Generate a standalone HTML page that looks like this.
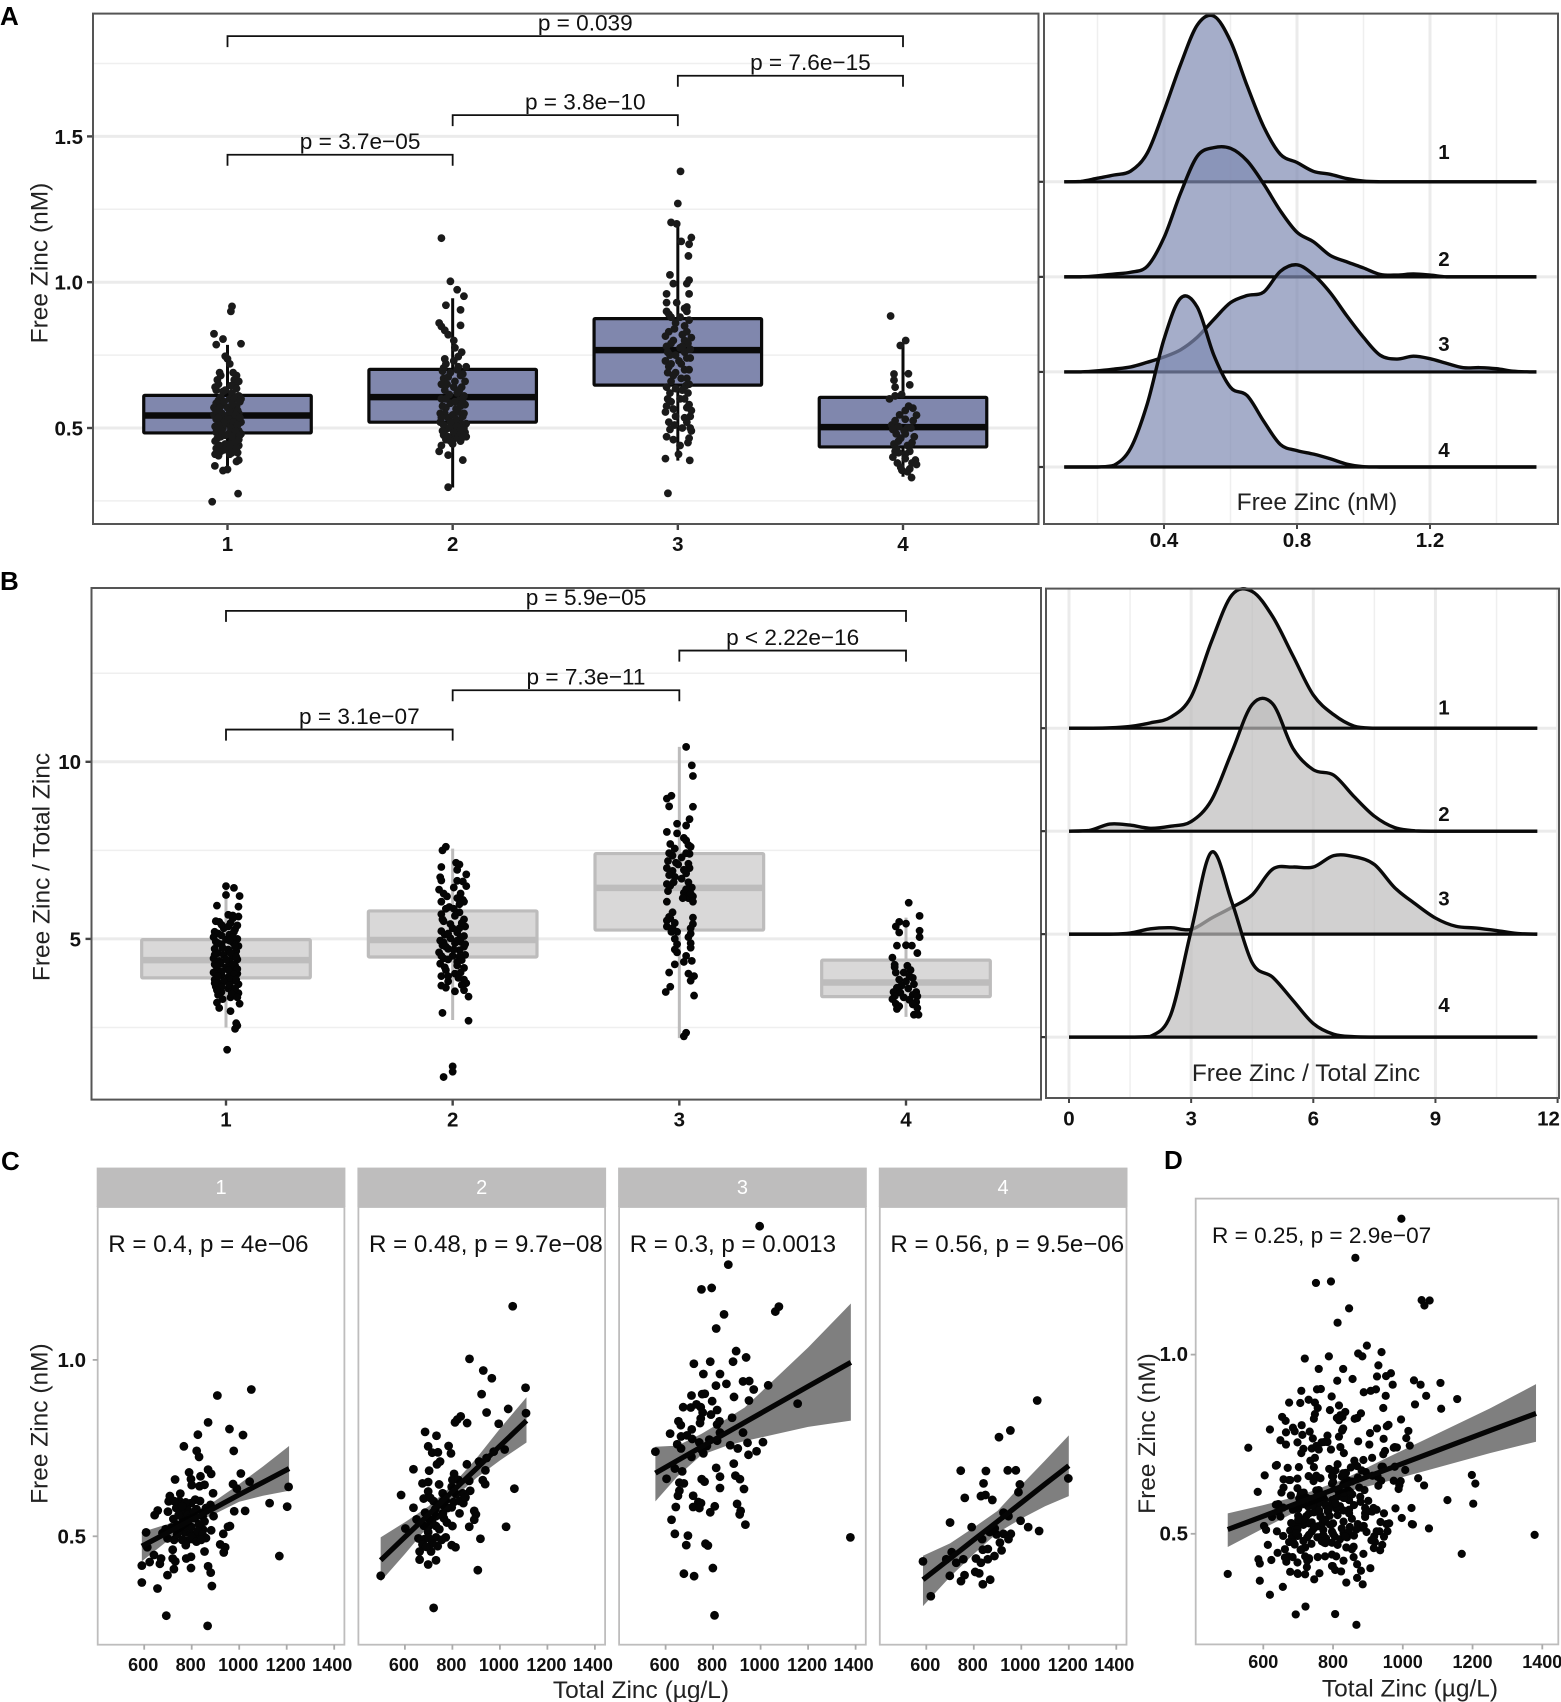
<!DOCTYPE html>
<html lang="en">
<head>
<meta charset="utf-8">
<title>Free zinc distribution and correlation figure</title>
<style>
html,body{margin:0;padding:0;background:#fff}
svg{display:block}
text{font-family:"Liberation Sans",Arial,sans-serif}
.title{font-size:24.5px;fill:#222}
.letter{font-size:26px;font-weight:bold;fill:#000}
.r{font-size:24.1px;fill:#111}
.r2{font-size:22.6px;fill:#111}
.strip{font-size:20px;fill:#fff;text-anchor:middle}
.mid{text-anchor:middle}
</style>
</head>
<body>
<svg id="figure" xmlns="http://www.w3.org/2000/svg" width="1561" height="1702" viewBox="0 0 1561 1702">
<rect width="1561" height="1702" fill="#fff"/>
<g id="panelA"></g>
<g id="ridgeA"></g>
<g id="panelB"></g>
<g id="ridgeB"></g>
<g id="panelC"></g>
<g id="panelD"></g>

<text class="letter" x="0" y="25">A</text>
<text class="letter" x="0" y="590">B</text>
<text class="letter" x="1" y="1170">C</text>
<text class="letter" x="1164" y="1169">D</text>

<text class="title mid" transform="translate(47.7,263) rotate(-90)">Free Zinc (nM)</text>
<text class="title mid" transform="translate(49.7,867) rotate(-90)">Free Zinc / Total Zinc</text>
<text class="title mid" x="1317" y="510">Free Zinc (nM)</text>
<text class="title mid" x="1306" y="1081">Free Zinc / Total Zinc</text>
<text class="title mid" transform="translate(47.5,1423.6) rotate(-90)">Free Zinc (nM)</text>
<text class="title mid" x="641" y="1698">Total Zinc (µg/L)</text>
<text class="title mid" transform="translate(1155,1433.5) rotate(-90)">Free Zinc (nM)</text>
<text class="title mid" x="1410" y="1696.5">Total Zinc (µg/L)</text>
</svg>

<script>
/* ---------- Panel A / B box statistics: [lowerWhisker, q1, median, q3, upperWhisker] ---------- */
const categories = [1, 2, 3, 4];
const boxStatsA = [[0.345,0.483,0.543,0.612,0.785],[0.296,0.52,0.606,0.701,0.945],[0.388,0.647,0.767,0.875,1.2],[0.333,0.435,0.503,0.605,0.79]];
const boxStatsB = [[2.5,3.9,4.4,4.98,6.5],[2.71,4.49,4.97,5.79,7.55],[2.2,5.25,6.44,7.41,10.42],[2.8,3.37,3.77,4.4,5.6]];

/* Jittered points: [jitter in category units, value] */
const jitterA1 = [[.02,.917],[.015,.9],[-.06,.823],[-.02,.805],[-.05,.786],[.06,.789],[-.01,.746],[0,.737],[.01,.72],[-.03,.68],[.04,.68],[-.045,.665],[.03,.665],[-.04,.65],[.035,.645],[-.05,.63],[-.02,.625],[.02,.62],[.05,.61],[-.03,.605],[.06,.6],[.01,.6],[-.05,.585],[-.02,.58],[.04,.575],[-.06,.57],[0,.57],[.03,.56],[-.04,.555],[.05,.55],[-.06,.545],[-.01,.54],[.02,.54],[-.05,.53],[.04,.53],[-.03,.52],[.06,.52],[0,.515],[-.055,.505],[.03,.505],[-.02,.5],[.05,.49],[-.05,.485],[.01,.485],[.06,.48],[-.03,.47],[.04,.47],[-.055,.455],[.02,.455],[-.01,.445],[.05,.44],[-.05,.43],[.03,.43],[-.03,.42],[.045,.415],[-.055,.41],[.01,.41],[-.04,.405],[.05,.39],[.04,.385],[-.056,.37],[-.02,.354],[0,.358],[.047,.275],[-.068,.247],[-.035,.69],[.025,.69],[.05,.66],[-.055,.64],[.015,.645],[.04,.635],[-.01,.63],[.03,.6],[-.04,.595],[.055,.59],[-.015,.59],[.02,.58],[-.035,.57],[.045,.56],[-.05,.56],[.01,.555],[-.025,.55],[.035,.545],[.055,.535],[-.04,.535],[.005,.53],[.025,.52],[-.015,.52],[.045,.51],[-.04,.51],[.015,.5],[-.05,.5],[.035,.49],[-.025,.49],[.055,.475],[-.01,.475],[.02,.47],[-.045,.465],[.05,.46],[.03,.45],[-.035,.44],[.01,.435],[.04,.43],[-.015,.425],[-.045,.42],[.02,.415]];
const jitterA2 = [[-.05,1.151],[-.01,1.003],[.02,.974],[.05,.952],[-.03,.921],[.035,.905],[-.06,.86],[-.05,.848],[.035,.852],[-.035,.835],[-.02,.82],[.005,.8],[.01,.775],[.04,.76],[.025,.745],[-.035,.737],[.06,.71],[-.04,.706],[.005,.73],[-.03,.72],[.025,.71],[-.01,.69],[.035,.68],[-.04,.67],[.01,.66],[-.025,.65],[.04,.64],[-.035,.63],[.02,.62],[.05,.61],[-.05,.6],[.03,.595],[-.01,.585],[.055,.58],[-.03,.57],[.015,.565],[-.055,.55],[.045,.54],[-.02,.535],[.03,.525],[-.055,.52],[.06,.515],[0,.51],[.04,.5],[-.03,.495],[.02,.49],[.055,.485],[-.04,.475],[.06,.47],[.01,.465],[-.03,.46],[.035,.455],[-.05,.44],[-.06,.42],[0,.445],[-.02,.407],[.045,.39],[-.02,.297],[.02,.7],[-.045,.695],[.045,.685],[-.02,.675],[.055,.66],[-.05,.65],[.005,.64],[.03,.63],[-.015,.615],[.045,.6],[-.03,.6],[.01,.59],[.035,.575],[-.045,.575],[.025,.555],[-.035,.55],[.05,.55],[0,.545],[-.05,.535],[.015,.53],[-.01,.52],[.04,.515],[-.04,.51],[.02,.505],[.05,.5],[-.015,.5],[.03,.49],[-.045,.49],[.005,.485],[.045,.475],[-.02,.47],[.025,.47],[-.01,.455],[.04,.465]];
const jitterA3 = [[.012,1.38],[0,1.27],[-.03,1.205],[-.005,1.2],[.06,1.153],[.015,1.14],[.05,1.13],[.047,1.09],[-.035,1.025],[.05,1.007],[-.02,.995],[.04,.995],[-.05,.96],[.05,.96],[-.05,.93],[-.005,.93],[.04,.915],[-.05,.9],[.04,.9],[-.03,.88],[.05,.87],[-.01,.86],[.03,.85],[-.04,.83],[.02,.82],[.06,.81],[-.02,.8],[.045,.79],[-.05,.78],[.01,.775],[.03,.76],[-.035,.75],[.055,.74],[-.055,.73],[.015,.72],[-.04,.71],[.05,.7],[-.045,.69],[-.02,.68],[.04,.67],[-.03,.66],[.035,.645],[-.01,.635],[.02,.63],[.01,.6],[-.03,.59],[.05,.58],[-.05,.575],[.04,.57],[-.02,.565],[.06,.56],[-.055,.555],[-.01,.54],[.03,.535],[.04,.52],[-.015,.51],[.055,.5],[-.035,.495],[.06,.49],[-.05,.47],[.05,.465],[-.02,.46],[.045,.45],[.01,.44],[-.055,.395],[.003,.41],[.053,.389],[-.044,.276],[.03,.91],[-.04,.89],[.01,.88],[-.015,.84],[.04,.83],[-.055,.815],[.03,.8],[-.03,.79],[.02,.78],[.055,.77],[-.045,.76],[-.01,.75],[.04,.74],[.005,.73],[-.03,.72],[.03,.7],[-.01,.69],[.015,.67],[.05,.65],[-.05,.64],[-.035,.62],[.045,.62],[.03,.6],[-.045,.6],[.055,.54],[-.04,.52],[.02,.5]];
const jitterA4 = [[-.055,.884],[.012,.8],[-.012,.783],[-.04,.685],[.024,.686],[-.04,.664],[.03,.648],[-.035,.64],[-.006,.615],[-.035,.61],[-.06,.6],[.044,.568],[.01,.56],[.06,.544],[.01,.53],[.045,.525],[-.05,.51],[-.02,.505],[.02,.5],[-.045,.495],[.005,.49],[-.03,.48],[.05,.47],[-.01,.465],[.04,.45],[-.04,.445],[.02,.44],[-.03,.43],[.03,.42],[-.02,.415],[.01,.41],[-.045,.4],[.055,.39],[.04,.38],[.06,.375],[-.01,.365],[.03,.36],[-.005,.355],[.02,.35],[.038,.33],[.025,.575],[-.015,.545],[-.035,.525],[.035,.5],[.01,.48],[-.02,.455],[.03,.44],[-.035,.42],[.01,.395],[-.025,.38]];

const jitterB1 = [[0,6.49],[.035,6.44],[0,6.24],[.06,6.21],[-.04,5.94],[.055,5.91],[.01,5.68],[.03,5.66],[.055,5.63],[-.045,5.5],[-.03,5.48],[.02,5.45],[.05,5.38],[-.01,5.3],[.04,5.27],[-.05,5.2],[-.035,5.15],[.015,5.12],[-.055,5.05],[.05,5],[0,4.98],[-.045,4.92],[.03,4.9],[-.02,4.85],[.055,4.8],[-.05,4.72],[.01,4.7],[.045,4.65],[-.035,4.6],[-.01,4.55],[.03,4.5],[-.055,4.45],[.05,4.42],[-.03,4.38],[.015,4.35],[-.05,4.28],[.04,4.25],[0,4.2],[-.04,4.15],[.025,4.1],[-.055,4.05],[.05,4.02],[-.02,3.98],[.01,3.92],[-.05,3.85],[.035,3.82],[-.03,3.75],[.055,3.72],[-.045,3.65],[.01,3.6],[.03,3.55],[-.02,3.5],[.055,3.47],[-.035,3.42],[.02,3.35],[-.04,3.2],[.06,3.17],[.02,2.96],[.045,2.62],[.05,2.55],[.04,2.46],[.005,1.87],[.03,5.58],[-.02,5.4],[.01,5.35],[.035,5.2],[-.02,5.1],[.03,5.05],[.015,4.95],[-.035,4.88],[.04,4.78],[-.015,4.75],[.02,4.6],[-.05,4.55],[.045,4.5],[0,4.42],[-.025,4.3],[.03,4.28],[-.04,4.22],[.05,4.15],[.01,4.12],[-.02,4.08],[.035,4],[-.035,3.95],[.02,3.85],[-.01,3.8],[.045,3.85],[-.05,3.75],[.015,3.7],[-.02,3.65],[.04,3.6],[-.04,3.55],[.025,3.45],[.05,3.35],[-.015,3.3],[-.03,3.05]];
const jitterB2 = [[-.03,7.6],[-.045,7.5],[-.05,7.03],[.015,7.15],[.03,7.1],[.02,6.95],[-.055,6.74],[.06,6.82],[-.05,6.65],[.02,6.64],[.06,6.49],[-.06,6.39],[-.04,6.28],[.035,6.28],[.045,6.1],[-.015,5.9],[.05,6.05],[-.03,5.85],[.03,5.75],[-.05,5.7],[.01,5.65],[.05,5.55],[-.04,5.5],[-.01,5.42],[.055,5.35],[.03,5.3],[-.05,5.22],[.02,5.18],[-.035,5.12],[.05,5.08],[-.01,5.02],[-.055,4.95],[.035,4.92],[.01,4.88],[-.045,4.82],[.05,4.78],[-.02,4.72],[.03,4.68],[-.06,4.62],[.055,4.55],[0,4.52],[-.04,4.45],[.04,4.4],[-.055,4.3],[.02,4.25],[.05,4.18],[-.03,4.12],[.01,4.02],[-.05,3.95],[.05,3.85],[-.02,3.8],[.06,3.75],[-.05,3.68],[.01,3.52],[.07,3.37],[-.045,2.91],[.07,2.69],[0,1.4],[0,1.25],[-.04,1.1],[.045,6.62],[.005,6.45],[-.025,6.2],[.02,6.15],[-.05,6.05],[.03,5.98],[.005,5.85],[-.045,5.55],[.04,5.45],[0,5.3],[-.02,5.15],[.035,5.05],[.02,4.95],[-.04,4.9],[.055,4.85],[-.03,4.78],[.005,4.7],[-.05,4.52],[.03,4.5],[-.02,4.42],[.02,4.35],[-.035,4.2],[.035,4.05],[-.02,3.95],[.025,3.9],[.04,3.7],[-.03,3.62],[.05,3.55]];
const jitterB3 = [[.03,10.42],[.055,9.9],[.06,9.6],[-.035,9.04],[-.055,8.96],[-.045,8.74],[.06,8.73],[.045,8.38],[-.01,8.25],[.03,8.2],[-.055,8.02],[-.01,7.98],[.03,7.78],[.04,7.65],[-.04,7.68],[-.02,7.55],[.045,7.4],[-.03,7.35],[.01,7.3],[-.05,7.2],[-.015,7.15],[.04,7.12],[-.055,7],[-.03,6.92],[.03,6.85],[-.02,6.75],[-.055,6.55],[.01,6.7],[.055,6.45],[-.05,6.35],[.02,6.3],[.06,6.2],[.04,6.15],[-.055,6.05],[-.03,5.75],[-.04,5.58],[-.02,5.45],[.06,5.6],[.06,5.42],[-.055,5.35],[-.03,5.3],[-.01,5.2],[.05,5.15],[-.02,5],[.05,4.88],[.05,4.75],[-.02,4.7],[-.01,4.62],[.03,4.52],[.055,4.38],[.02,4.35],[-.02,4.28],[.04,4.02],[-.045,4.05],[.065,3.95],[.05,3.82],[-.04,3.65],[.065,3.4],[-.06,3.5],[.03,2.35],[.02,2.25],[.02,7.85],[.05,7.6],[.03,7.42],[-.045,7.42],[-.005,7.1],[.045,7],[.02,6.95],[-.045,6.8],[.04,6.6],[-.04,6.5],[.03,6.4],[.05,6.28],[-.025,6.6],[.06,6.05],[.015,6.15],[-.045,5.62],[-.055,5.52],[.05,5.3],[.04,5.05],[-.035,5.2],[-.01,4.85]];
const jitterB4 = [[.012,6.02],[.06,5.65],[-.03,5.48],[0,5.43],[-.045,5.35],[.06,5.23],[-.03,5.18],[.06,5.05],[-.04,4.81],[0,4.82],[.026,4.81],[.05,4.6],[-.06,4.47],[-.05,4.27],[.006,4.24],[.02,4.12],[-.01,4.05],[-.05,4.2],[-.045,4.05],[.015,3.95],[.03,3.9],[-.03,3.85],[0,3.8],[.035,3.72],[-.02,3.68],[-.04,3.62],[.01,3.6],[.045,3.5],[-.055,3.5],[-.025,3.48],[.03,3.42],[.05,3.38],[-.05,3.38],[-.01,3.35],[-.06,3.3],[.015,3.28],[.045,3.22],[-.045,3.17],[.03,3.15],[-.03,3.1],[.05,3.05],[-.04,3.02],[.035,2.86],[.055,2.86]];

/* Significance brackets: [from category, to category, value height, label, label offset from bracket centre] */
const bracketsA = [[1,4,1.844,"p = 0.039",20],[3,4,1.708,"p = 7.6e−15",20],[2,3,1.573,"p = 3.8e−10",20],[1,2,1.437,"p = 3.7e−05",20]];
const bracketsB = [[1,4,14.26,"p = 5.9e−05",20],[3,4,13.14,"p < 2.22e−16",0],[2,3,12.02,"p = 7.3e−11",20],[1,2,10.91,"p = 3.1e−07",20]];

const yTicksA = [0.5, 1.0, 1.5];
const yMinorA = [0.25, 0.75, 1.25, 1.75];
const yTicksB = [5, 10];
const yMinorB = [2.5, 7.5, 12.5];

/* ---------- Ridgeline densities ---------- */
const ridgeGridA = [.1,.15,.2,.25,.3,.35,.4,.45,.5,.55,.6,.65,.7,.75,.8,.85,.9,.95,1,1.05,1.1,1.15,1.2,1.25,1.3,1.35,1.4,1.45,1.5,1.52];
const densityA1 = [0,.01,.1,.19,.3,.81,1.99,3.29,4.39,4.64,3.94,2.69,1.54,.77,.54,.29,.21,.09,.02,0,0,0,0,0,0,0,0,0,0,0];
const densityA2 = [0,0,.03,.08,.13,.3,1.1,2.35,3.38,3.62,3.6,3.25,2.6,1.85,1.25,.98,.6,.42,.25,.07,.05,.08,.05,0,0,0,0,0,0,0];
const densityA3 = [0,0,.03,.08,.14,.27,.42,.62,.97,1.47,1.94,2.14,2.24,2.82,3,2.72,2.22,1.57,.97,.47,.36,.44,.37,.24,.12,.12,.09,.02,0,0];
const densityA4 = [0,0,0,.05,.53,1.78,3.58,4.73,4.48,3.13,2.23,2,1.28,.63,.46,.36,.23,.08,.01,0,0,0,0,0,0,0,0,0,0,0];
const ridgeTicksA = [0.4, 0.8, 1.2];
const ridgeMinorA = [0.2, 0.6, 1.0, 1.4];

const ridgeGridB = [0,.5,1,1.5,2,2.5,3,3.5,4,4.5,5,5.5,6,6.5,7,7.5,8,8.5,9,9.5,10,10.5,11,11.5];
const densityB1 = [0,0,.01,.05,.15,.31,.88,2.43,3.73,3.83,3.13,2.03,.93,.38,.06,0,0,0,0,0,0,0,0,0];
const densityB2 = [0,.02,.2,.17,.08,.14,.27,.87,2.22,3.55,3.57,2.32,1.72,1.57,.97,.42,.1,.01,0,0,0,0,0,0];
const densityB3 = [0,0,0,.03,.15,.18,.13,.45,.75,1.1,1.82,1.88,1.88,2.2,2.17,1.95,1.3,.85,.45,.22,.17,.1,.02,0];
const densityB4 = [0,0,0,0,.02,.63,2.98,5.18,3.78,2.08,1.68,1.03,.38,.08,.01,0,0,0,0,0,0,0,0,0];
const ridgeTicksB = [0, 3, 6, 9, 12];
const ridgeMinorB = [1.5, 4.5, 7.5, 10.5];

/* ---------- Scatter data per group: [total zinc, free zinc] ---------- */
const group1 = [[908,.899],[1051,.916],[869,.823],[959,.804],[826,.788],[1016,.787],[767,.755],[821,.742],[977,.742],[831,.725],[789,.681],[869,.689],[882,.677],[1007,.678],[837,.67],[730,.661],[797,.662],[800,.645],[833,.642],[854,.646],[1044,.655],[974,.648],[990,.635],[1208,.64],[890,.622],[752,.621],[708,.614],[703,.599],[748,.6],[815,.604],[797,.594],[1128,.594],[1202,.584],[657,.573],[644,.56],[979,.571],[1025,.572],[879,.589],[892,.557],[780,.577],[755,.567],[723,.549],[764,.547],[813,.552],[846,.557],[739,.532],[797,.527],[854,.542],[608,.511],[677,.509],[882,.517],[953,.527],[961,.529],[933,.507],[848,.519],[830,.502],[780,.487],[726,.49],[698,.494],[805,.492],[920,.477],[941,.469],[854,.457],[935,.454],[613,.469],[641,.447],[720,.462],[1169,.444],[797,.442],[777,.437],[671,.437],[666,.422],[623,.427],[590,.417],[731,.429],[720,.437],[725,.407],[698,.39],[797,.41],[869,.415],[880,.397],[885,.359],[590,.369],[656,.352],[693,.275],[867,.246],[757,.521],[830,.534],[772,.511],[797,.506],[739,.506],[846,.567],[785,.562],[820,.577],[775,.596],[735,.58],[700,.57],[725,.6],[760,.585],[745,.56],[790,.55],[810,.57],[835,.6],[860,.58],[770,.53],[715,.525],[690,.52],[745,.515],[800,.5],[825,.515],[845,.505],[860,.495],[820,.485],[840,.49],[760,.49],[775,.475]];
const group2 = [[1054,1.152],[872,1.003],[930,.97],[966,.948],[1108,.921],[923,.903],[1035,.861],[944,.851],[1110,.849],[835,.84],[821,.831],[811,.823],[862,.821],[995,.819],[685,.796],[733,.785],[784,.756],[698,.755],[794,.735],[715,.737],[739,.738],[1020,.746],[974,.74],[944,.722],[748,.712],[735,.704],[861,.704],[636,.69],[702,.686],[939,.687],[912,.712],[807,.677],[871,.657],[928,.659],[938,.648],[674,.65],[698,.654],[744,.647],[797,.64],[875,.629],[698,.627],[759,.622],[584,.617],[843,.622],[679,.607],[707,.609],[772,.602],[805,.597],[846,.594],[764,.587],[636,.581],[797,.582],[892,.572],[899,.562],[728,.577],[685,.567],[830,.565],[649,.548],[731,.557],[892,.547],[764,.551],[777,.539],[800,.529],[871,.527],[1026,.527],[602,.522],[698,.527],[731,.529],[698,.512],[657,.494],[682,.492],[731,.497],[772,.497],[918,.493],[674,.477],[738,.472],[797,.475],[813,.469],[662,.457],[710,.457],[662,.434],[731,.432],[698,.42],[907,.404],[498,.388],[721,.297],[1061,.635],[720,.6],[740,.59],[760,.6],[780,.58],[815,.62],[830,.6],[855,.61],[800,.66],[825,.66],[760,.565],[700,.55],[715,.54],[680,.53],[745,.52],[700,.495],[715,.48],[755,.49],[690,.47]];
const group3 = [[996,1.379],[864,1.27],[751,1.2],[794,1.204],[846,1.129],[1077,1.151],[1062,1.137],[813,1.089],[897,1.025],[939,1.007],[788,.995],[719,.989],[884,.995],[759,.96],[829,.96],[856,.932],[926,.939],[952,.94],[812,.927],[1032,.928],[971,.916],[709,.899],[754,.903],[765,.904],[888,.895],[951,.885],[796,.883],[1156,.876],[674,.866],[706,.865],[730,.874],[748,.866],[756,.851],[817,.858],[791,.845],[748,.834],[880,.836],[654,.826],[745,.821],[827,.826],[664,.815],[817,.817],[710,.803],[619,.791],[665,.783],[690,.786],[829,.794],[926,.794],[712,.776],[784,.774],[817,.771],[649,.761],[742,.766],[665,.749],[774,.756],[872,.758],[945,.765],[1010,.767],[904,.749],[557,.74],[752,.745],[983,.741],[949,.731],[759,.735],[709,.725],[887,.706],[639,.692],[813,.694],[670,.684],[604,.663],[829,.669],[894,.672],[913,.662],[752,.662],[764,.655],[658,.652],[677,.65],[829,.637],[930,.634],[658,.629],[652,.615],[716,.615],[738,.597],[749,.594],[901,.592],[643,.583],[716,.583],[742,.58],[807,.585],[916,.572],[788,.568],[912,.562],[625,.547],[936,.533],[639,.507],[694,.502],[1378,.497],[768,.479],[687,.475],[778,.474],[799,.41],[677,.394],[720,.387],[806,.276]];
const group4 = [[1067,.885],[954,.8],[906,.781],[745,.686],[851,.685],[943,.687],[977,.687],[841,.65],[994,.647],[1198,.664],[988,.625],[830,.614],[849,.617],[762,.609],[878,.603],[925,.567],[946,.557],[700,.539],[997,.544],[791,.526],[1029,.526],[1075,.515],[888,.522],[867,.512],[956,.507],[925,.507],[896,.505],[946,.492],[835,.492],[910,.482],[838,.462],[859,.464],[707,.455],[917,.46],[887,.444],[756,.435],[684,.435],[809,.437],[859,.435],[830,.425],[586,.429],[726,.425],[806,.399],[823,.395],[699,.388],[761,.39],[746,.373],[869,.377],[838,.364],[619,.33]];

/* Regression fits: x positions, fitted line, upper and lower confidence limits */
const fitX1 = [590,700,800,887,1000,1100,1210];
const fitLine1 = [.472,.511,.547,.577,.618,.653,.692];
const fitUp1 = [.512,.535,.562,.595,.648,.698,.756];
const fitLow1 = [.429,.488,.535,.56,.598,.615,.629];
const fitX2 = [498,600,700,800,900,1000,1112];
const fitLine2 = [.432,.498,.562,.627,.691,.756,.828];
const fitUp2 = [.497,.54,.585,.645,.72,.805,.894];
const fitLow2 = [.372,.45,.53,.605,.665,.715,.766];
const fitX3 = [557,650,750,850,933,1200,1380];
const fitLine3 = [.679,.715,.753,.791,.823,.925,.993];
const fitUp3 = [.754,.757,.79,.83,.865,1.035,1.16];
const fitLow3 = [.599,.67,.73,.755,.77,.81,.828];
const fitX4 = [586,700,800,900,1000,1100,1200];
const fitLine4 = [.377,.437,.49,.542,.595,.648,.7];
const fitUp4 = [.445,.48,.525,.572,.645,.715,.786];
const fitLow4 = [.302,.385,.45,.51,.55,.585,.614];
const fitXD = [498,600,700,830,950,1100,1250,1382];
const fitLineD = [.512,.549,.586,.634,.678,.733,.788,.836];
const fitUpD = [.557,.58,.605,.652,.71,.78,.85,.9175];
const fitLowD = [.463,.515,.565,.615,.645,.685,.725,.757];

const corrLabels = ["R = 0.4, p = 4e−06","R = 0.48, p = 9.7e−08","R = 0.3, p = 0.0013","R = 0.56, p = 9.5e−06"];
const corrLabelD = "R = 0.25, p = 2.9e−07";
const scatterXTicks = [600, 800, 1000, 1200, 1400];
const scatterYTicks = [0.5, 1.0];

/* ---------- helpers ---------- */
const NS = 'http://www.w3.org/2000/svg';
function mk(parent, type, props, text) {
  const e = document.createElementNS(NS, type);
  for (const k in props) e.setAttribute(k, props[k]);
  if (text !== undefined) e.textContent = text;
  parent.appendChild(e);
  return e;
}
const scale = (d0, d1, r0, r1) => v => r0 + (v - d0) * (r1 - r0) / (d1 - d0);
function smoothPath(pts, floorY) {
  let d = 'M' + pts[0][0].toFixed(2) + ' ' + pts[0][1].toFixed(2);
  for (let i = 0; i < pts.length - 1; i++) {
    const p0 = pts[Math.max(i - 1, 0)], p1 = pts[i], p2 = pts[i + 1], p3 = pts[Math.min(i + 2, pts.length - 1)];
    const c1x = p1[0] + (p2[0] - p0[0]) / 6, c2x = p2[0] - (p3[0] - p1[0]) / 6;
    const c1y = Math.min(p1[1] + (p2[1] - p0[1]) / 6, floorY), c2y = Math.min(p2[1] - (p3[1] - p1[1]) / 6, floorY);
    d += 'C' + c1x.toFixed(2) + ' ' + c1y.toFixed(2) + ' ' + c2x.toFixed(2) + ' ' + c2y.toFixed(2) + ' ' + p2[0].toFixed(2) + ' ' + p2[1].toFixed(2);
  }
  return d;
}

/* ---------- box plot panels ---------- */
function drawBoxPanel(root, cfg) {
  const x = cfg.x, y = cfg.y;
  cfg.minor.forEach(v => {
    const l = mk(root, 'line', {x1: cfg.left, x2: cfg.right, y1: y(v), y2: y(v), stroke: '#efefef', 'stroke-width': 1.5});
    
    
  });
  cfg.major.forEach(v => {
    const l = mk(root, 'line', {x1: cfg.left, x2: cfg.right, y1: y(v), y2: y(v), stroke: '#ebebeb', 'stroke-width': 3});
    
    
    const t = mk(root, 'line', {x1: cfg.left - 6, x2: cfg.left, y1: y(v), y2: y(v), stroke: '#444', 'stroke-width': 2.4});
    
    
    const lab = mk(root, 'text', {x: cfg.labelRight, y: y(v) + 7.4, 'text-anchor': 'end', 'font-size': 20.5, 'font-weight': 'bold', fill: '#111'}, cfg.fmt(v));
    
    
  });
  categories.forEach((c, i) => {
    const s = cfg.stats[i], cx = x(c), hw = 0.372 * (x(2) - x(1));
    const wh = mk(root, 'line', {x1: cx, x2: cx, y1: y(s[0]), y2: y(s[4]), stroke: cfg.stroke, 'stroke-width': 3});
    
    
    const box = mk(root, 'rect', {x: cx - hw, width: 2 * hw, y: y(s[3]), height: y(s[1]) - y(s[3]), fill: cfg.fill, stroke: cfg.stroke, 'stroke-width': 3.2, rx: 1});
    
    
    const med = mk(root, 'line', {x1: cx - hw, x2: cx + hw, y1: y(s[2]), y2: y(s[2]), stroke: cfg.stroke, 'stroke-width': 6.5});
    
    
    cfg.jitter[i].forEach(p => {
      const dot = mk(root, 'circle', {cx: x(c + p[0]), cy: y(p[1]), r: 3.9, fill: cfg.dot});
      
      
    });
    const tick = mk(root, 'line', {x1: cx, x2: cx, y1: cfg.bottom, y2: cfg.bottom + 6, stroke: '#444', 'stroke-width': 2.4});
    
    
    const tl = mk(root, 'text', {x: cx, y: cfg.bottom + 27, 'text-anchor': 'middle', 'font-size': 20.5, 'font-weight': 'bold', fill: '#111'}, c);
    
    
  });
  cfg.brackets.forEach(b => {
    const x0 = x(b[0]), x1 = x(b[1]), yy = y(b[2]);
    const br = mk(root, 'path', {d: 'M' + x0 + ' ' + (yy + 11) + 'V' + yy + 'H' + x1 + 'V' + (yy + 11), fill: 'none', stroke: '#111', 'stroke-width': 1.8});
    
    
    const lb = mk(root, 'text', {x: (x0 + x1) / 2 + b[4], y: yy - 5.7, 'text-anchor': 'middle', 'font-size': 22.6, fill: '#111'}, b[3]);
    
    
  });
  const frame = mk(root, 'rect', {x: cfg.left, y: cfg.top, width: cfg.right - cfg.left, height: cfg.bottom - cfg.top, fill: 'none', stroke: '#555', 'stroke-width': 2});
  
  
}

drawBoxPanel(document.getElementById('panelA'), {
  x: scale(1, 4, 227.5, 903), y: scale(.5, 1.5, 428, 136.4),
  left: 93, right: 1038.5, top: 13.6, bottom: 524,
  major: yTicksA, minor: yMinorA, stats: boxStatsA,
  jitter: [jitterA1, jitterA2, jitterA3, jitterA4],
  brackets: bracketsA, fill: '#8087ad', stroke: '#0a0a0a', dot: '#1a1a1a',
  labelRight: 83, fmt: v => v.toFixed(1)
});
drawBoxPanel(document.getElementById('panelB'), {
  x: scale(1, 4, 226, 906), y: scale(5, 10, 938.9, 761.8),
  left: 91.5, right: 1041, top: 588, bottom: 1099.6,
  major: yTicksB, minor: yMinorB, stats: boxStatsB,
  jitter: [jitterB1, jitterB2, jitterB3, jitterB4],
  brackets: bracketsB, fill: '#d9d8d8', stroke: '#bdbcbc', dot: '#050505',
  labelRight: 81, fmt: v => String(v)
});

/* ---------- ridgeline panels ---------- */
function drawRidges(root, cfg) {
  cfg.minor.forEach(v => {
    const l = mk(root, 'line', {x1: cfg.x(v), x2: cfg.x(v), y1: cfg.top, y2: cfg.bottom, stroke: '#efefef', 'stroke-width': 1.5});
    
    
  });
  cfg.ticks.forEach(v => {
    const px = cfg.x(v);
    const l = mk(root, 'line', {x1: px, x2: px, y1: cfg.top, y2: cfg.bottom, stroke: '#ebebeb', 'stroke-width': 3});
    
    
    const t = mk(root, 'line', {x1: px, x2: px, y1: cfg.bottom, y2: cfg.bottom + 5, stroke: '#444', 'stroke-width': 2});
    
    
    const lab = mk(root, 'text', {x: Math.min(px, 1548.5), y: cfg.bottom + cfg.tickDy, 'text-anchor': 'middle', 'font-size': 20.5, 'font-weight': 'bold', fill: '#111'}, cfg.fmt(v));
    
    
  });
  categories.forEach(c => {
    const base = cfg.row(c);
    const l = mk(root, 'line', {x1: cfg.left, x2: cfg.right, y1: base, y2: base, stroke: '#ebebeb', 'stroke-width': 3});
    
    
    const t = mk(root, 'line', {x1: cfg.left - 5, x2: cfg.left, y1: base, y2: base, stroke: '#333', 'stroke-width': 2.2});
    
    
  });
  categories.forEach((c, i) => {
    const base = cfg.row(c);
    const pts = cfg.grid.map((g, k) => [cfg.x(g), base - cfg.density[i][k] * 35.7]);
    const top = smoothPath(pts, base);
    const x0 = pts[0][0], x1 = pts[pts.length - 1][0];
    const area = mk(root, 'path', {d: top + 'L' + x1 + ' ' + base + 'L' + x0 + ' ' + base + 'Z', fill: cfg.fill, 'fill-opacity': 0.7});
    
    
    const bl = mk(root, 'line', {x1: x0, x2: x1, y1: base, y2: base, stroke: '#0a0a0a', 'stroke-width': 3.2});
    
    
    const ln = mk(root, 'path', {d: top, fill: 'none', stroke: '#0a0a0a', 'stroke-width': 3.4, 'stroke-linejoin': 'round'});
    
    
  });
  categories.forEach((c, i) => {
    const tx = mk(root, 'text', {x: 1444, y: cfg.labelY[i], 'text-anchor': 'middle', 'font-size': 20.5, 'font-weight': 'bold', fill: '#111'}, c);
    
    
  });
  const frame = mk(root, 'rect', {x: cfg.left, y: cfg.top, width: cfg.right - cfg.left, height: cfg.bottom - cfg.top, fill: 'none', stroke: '#555', 'stroke-width': 2});
  
  
}

drawRidges(document.getElementById('ridgeA'), {
  x: scale(.4, 1.2, 1164, 1430), row: scale(1, 4, 181.8, 467),
  left: 1044, right: 1558, top: 13.6, bottom: 524, tickDy: 23,
  ticks: ridgeTicksA, minor: ridgeMinorA, grid: ridgeGridA,
  density: [densityA1, densityA2, densityA3, densityA4],
  fill: '#7f8ab2', labelY: [159, 266, 351, 457], fmt: v => v.toFixed(1)
});
drawRidges(document.getElementById('ridgeB'), {
  x: scale(0, 12, 1069, 1557.6), row: scale(1, 4, 728.2, 1037.1),
  left: 1046, right: 1559, top: 588.6, bottom: 1098, tickDy: 27.5,
  ticks: ridgeTicksB, minor: ridgeMinorB, grid: ridgeGridB,
  density: [densityB1, densityB2, densityB3, densityB4],
  fill: '#bdbcbc', labelY: [714.6, 821, 905.7, 1012], fmt: v => String(v)
});

/* ---------- scatter helpers ---------- */
function drawScatter(root, pts, fitX, fitLine, fitUp, fitLow, x, y, r) {
  pts.forEach(p => {
    const dot = mk(root, 'circle', {cx: x(p[0]), cy: y(p[1]), r: r, fill: '#050505'});
    
    
  });
  const up = fitX.map((v, i) => (i ? 'L' : 'M') + x(v).toFixed(2) + ' ' + y(fitUp[i]).toFixed(2)).join('');
  const low = fitX.map((v, i) => [v, fitLow[i]]).reverse().map(p => 'L' + x(p[0]).toFixed(2) + ' ' + y(p[1]).toFixed(2)).join('');
  const band = mk(root, 'path', {d: up + low + 'Z', fill: '#000', 'fill-opacity': 0.5});
  
  
  const line = mk(root, 'path', {d: fitX.map((v, i) => (i ? 'L' : 'M') + x(v).toFixed(2) + ' ' + y(fitLine[i]).toFixed(2)).join(''), fill: 'none', stroke: '#050505', 'stroke-width': 5.2});
  
  
}

/* ---------- panel C facets ---------- */
const rootC = document.getElementById('panelC');
const facetGroups = [group1, group2, group3, group4];
const facetFitX = [fitX1, fitX2, fitX3, fitX4];
const facetFitLine = [fitLine1, fitLine2, fitLine3, fitLine4];
const facetFitUp = [fitUp1, fitUp2, fitUp3, fitUp4];
const facetFitLow = [fitLow1, fitLow2, fitLow3, fitLow4];
const yC = scale(.5, 1, 1536.3, 1359.9);
categories.forEach((c, i) => {
  const off = 260.7 * i, left = 97.7 + off, right = left + 246.7, top = 1207, bottom = 1644.7;
  const xC = scale(600, 1400, 144.2 + off, 334.2 + off);
  const strip = mk(rootC, 'rect', {x: left - 1, y: 1167.6, width: 248.7, height: 39.4, fill: '#bebdbd'});
  
  
  const st = mk(rootC, 'text', {x: left + 123.3, y: 1194, class: 'strip'}, c);
  
  
  const frame = mk(rootC, 'rect', {x: left, y: top, width: 246.7, height: bottom - top, fill: '#fff', stroke: '#bebdbd', 'stroke-width': 1.8});
  
  
  drawScatter(rootC, facetGroups[i], facetFitX[i], facetFitLine[i], facetFitUp[i], facetFitLow[i], xC, yC, 4.4);
  const rl = mk(rootC, 'text', {x: left + 10.6, y: 1252, class: 'r'}, corrLabels[i]);
  
  
  scatterXTicks.forEach(v => {
    const t = mk(rootC, 'line', {x1: xC(v), x2: xC(v), y1: bottom, y2: bottom + 5, stroke: '#aaa', 'stroke-width': 1.8});
    
    
    const l = mk(rootC, 'text', {x: v === 1400 ? xC(v) - 2 : xC(v) - 1, y: 1671, 'text-anchor': 'middle', 'font-size': 18, 'font-weight': 'bold', fill: '#111'}, v);
    
    
  });
});
scatterYTicks.forEach(v => {
  const t = mk(rootC, 'line', {x1: 92.7, x2: 97.7, y1: yC(v), y2: yC(v), stroke: '#aaa', 'stroke-width': 1.8});
  
  
  const l = mk(rootC, 'text', {x: 86, y: yC(v) + 7, 'text-anchor': 'end', 'font-size': 20.5, 'font-weight': 'bold', fill: '#111'}, v.toFixed(1));
  
  
});

/* ---------- panel D ---------- */
const rootD = document.getElementById('panelD');
const xD = scale(600, 1400, 1263.3, 1542.3);
const yD = scale(.5, 1, 1533.8, 1354.6);
const frameD = mk(rootD, 'rect', {x: 1195.7, y: 1198.6, width: 362.6, height: 445.8, fill: '#fff', stroke: '#bebdbd', 'stroke-width': 1.8});


drawScatter(rootD, group1.concat(group2, group3, group4), fitXD, fitLineD, fitUpD, fitLowD, xD, yD, 4.1);
const rlD = mk(rootD, 'text', {x: 1212, y: 1243, class: 'r2'}, corrLabelD);


scatterXTicks.forEach(v => {
  const t = mk(rootD, 'line', {x1: xD(v), x2: xD(v), y1: 1644.4, y2: 1649.4, stroke: '#aaa', 'stroke-width': 1.8});
  
  
  const l = mk(rootD, 'text', {x: xD(v), y: 1668, 'text-anchor': 'middle', 'font-size': 18, 'font-weight': 'bold', fill: '#111'}, v);
  
  
});
scatterYTicks.forEach(v => {
  const t = mk(rootD, 'line', {x1: 1190.7, x2: 1195.7, y1: yD(v), y2: yD(v), stroke: '#aaa', 'stroke-width': 1.8});
  
  
  const l = mk(rootD, 'text', {x: 1188, y: yD(v) + 6.5, 'text-anchor': 'end', 'font-size': 20.5, 'font-weight': 'bold', fill: '#111'}, v.toFixed(1));
  
  
});
</script>
</body>
</html>
